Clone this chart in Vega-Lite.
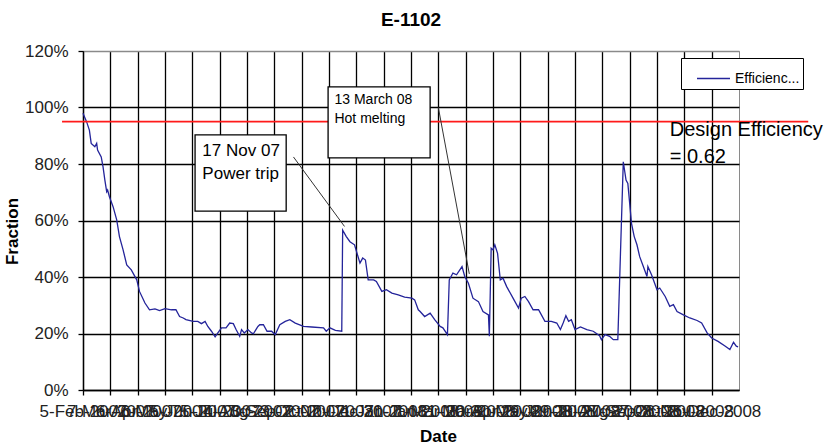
{
  "$schema": "https://vega.github.io/schema/vega-lite/v6.json",
  "autosize": {"type": "none"},
  "width": 656,
  "height": 339,
  "padding": {"left": 83, "top": 51, "right": 100, "bottom": 56},
  "background": "white",
  "config": {
    "font": "Liberation Sans",
    "view": {"stroke": "#8a8a8a", "strokeWidth": 1}
  },
  "title": {
    "text": "E-1102",
    "fontSize": 19,
    "fontWeight": "bold",
    "color": "#000",
    "frame": "group",
    "anchor": "middle",
    "offset": 12
  },
  "layer": [
    {
      "data": {
        "values": [
          {"date": "2007-02-05", "value": 0.98},
          {"date": "2007-02-09", "value": 0.949},
          {"date": "2007-02-12", "value": 0.92},
          {"date": "2007-02-14", "value": 0.873},
          {"date": "2007-02-18", "value": 0.861},
          {"date": "2007-02-20", "value": 0.873},
          {"date": "2007-02-21", "value": 0.849},
          {"date": "2007-02-25", "value": 0.825},
          {"date": "2007-02-27", "value": 0.79},
          {"date": "2007-03-01", "value": 0.743},
          {"date": "2007-03-03", "value": 0.702},
          {"date": "2007-03-04", "value": 0.708},
          {"date": "2007-03-06", "value": 0.684},
          {"date": "2007-03-10", "value": 0.649},
          {"date": "2007-03-14", "value": 0.602},
          {"date": "2007-03-17", "value": 0.543},
          {"date": "2007-03-21", "value": 0.496},
          {"date": "2007-03-25", "value": 0.443},
          {"date": "2007-03-30", "value": 0.425},
          {"date": "2007-04-05", "value": 0.39},
          {"date": "2007-04-08", "value": 0.349},
          {"date": "2007-04-14", "value": 0.308},
          {"date": "2007-04-19", "value": 0.284},
          {"date": "2007-04-25", "value": 0.287},
          {"date": "2007-04-30", "value": 0.281},
          {"date": "2007-05-06", "value": 0.288},
          {"date": "2007-05-13", "value": 0.284},
          {"date": "2007-05-18", "value": 0.284},
          {"date": "2007-05-22", "value": 0.26},
          {"date": "2007-05-26", "value": 0.255},
          {"date": "2007-05-29", "value": 0.249},
          {"date": "2007-06-06", "value": 0.243},
          {"date": "2007-06-11", "value": 0.243},
          {"date": "2007-06-15", "value": 0.235},
          {"date": "2007-06-19", "value": 0.243},
          {"date": "2007-06-22", "value": 0.225},
          {"date": "2007-06-26", "value": 0.208},
          {"date": "2007-06-30", "value": 0.188},
          {"date": "2007-07-03", "value": 0.202},
          {"date": "2007-07-07", "value": 0.22},
          {"date": "2007-07-12", "value": 0.22},
          {"date": "2007-07-16", "value": 0.237},
          {"date": "2007-07-20", "value": 0.235},
          {"date": "2007-07-23", "value": 0.214},
          {"date": "2007-07-27", "value": 0.19},
          {"date": "2007-07-29", "value": 0.214},
          {"date": "2007-08-01", "value": 0.202},
          {"date": "2007-08-05", "value": 0.214},
          {"date": "2007-08-09", "value": 0.202},
          {"date": "2007-08-11", "value": 0.199},
          {"date": "2007-08-15", "value": 0.22},
          {"date": "2007-08-16", "value": 0.225},
          {"date": "2007-08-18", "value": 0.231},
          {"date": "2007-08-22", "value": 0.231},
          {"date": "2007-08-26", "value": 0.208},
          {"date": "2007-08-31", "value": 0.208},
          {"date": "2007-09-04", "value": 0.196},
          {"date": "2007-09-09", "value": 0.231},
          {"date": "2007-09-15", "value": 0.243},
          {"date": "2007-09-20", "value": 0.249},
          {"date": "2007-09-26", "value": 0.237},
          {"date": "2007-10-05", "value": 0.225},
          {"date": "2007-10-14", "value": 0.223},
          {"date": "2007-10-27", "value": 0.22},
          {"date": "2007-10-30", "value": 0.208},
          {"date": "2007-11-03", "value": 0.22},
          {"date": "2007-11-09", "value": 0.211},
          {"date": "2007-11-16", "value": 0.208},
          {"date": "2007-11-17", "value": 0.566},
          {"date": "2007-11-21", "value": 0.543},
          {"date": "2007-11-25", "value": 0.525},
          {"date": "2007-11-30", "value": 0.514},
          {"date": "2007-12-06", "value": 0.449},
          {"date": "2007-12-09", "value": 0.467},
          {"date": "2007-12-12", "value": 0.46},
          {"date": "2007-12-15", "value": 0.39},
          {"date": "2007-12-21", "value": 0.39},
          {"date": "2007-12-24", "value": 0.384},
          {"date": "2007-12-30", "value": 0.349},
          {"date": "2008-01-04", "value": 0.355},
          {"date": "2008-01-10", "value": 0.343},
          {"date": "2008-01-17", "value": 0.337},
          {"date": "2008-01-24", "value": 0.329},
          {"date": "2008-02-01", "value": 0.325},
          {"date": "2008-02-04", "value": 0.319},
          {"date": "2008-02-08", "value": 0.284},
          {"date": "2008-02-10", "value": 0.278},
          {"date": "2008-02-15", "value": 0.26},
          {"date": "2008-02-21", "value": 0.272},
          {"date": "2008-02-26", "value": 0.249},
          {"date": "2008-03-03", "value": 0.225},
          {"date": "2008-03-06", "value": 0.22},
          {"date": "2008-03-11", "value": 0.196},
          {"date": "2008-03-13", "value": 0.39},
          {"date": "2008-03-17", "value": 0.414},
          {"date": "2008-03-21", "value": 0.408},
          {"date": "2008-03-27", "value": 0.437},
          {"date": "2008-03-30", "value": 0.402},
          {"date": "2008-04-03", "value": 0.378},
          {"date": "2008-04-08", "value": 0.325},
          {"date": "2008-04-14", "value": 0.313},
          {"date": "2008-04-19", "value": 0.278},
          {"date": "2008-04-25", "value": 0.266},
          {"date": "2008-04-26", "value": 0.19},
          {"date": "2008-04-28", "value": 0.502},
          {"date": "2008-04-30", "value": 0.496},
          {"date": "2008-05-02", "value": 0.514},
          {"date": "2008-05-05", "value": 0.484},
          {"date": "2008-05-08", "value": 0.39},
          {"date": "2008-05-11", "value": 0.396},
          {"date": "2008-05-15", "value": 0.366},
          {"date": "2008-05-22", "value": 0.325},
          {"date": "2008-05-28", "value": 0.29},
          {"date": "2008-05-31", "value": 0.325},
          {"date": "2008-06-04", "value": 0.331},
          {"date": "2008-06-08", "value": 0.313},
          {"date": "2008-06-13", "value": 0.284},
          {"date": "2008-06-19", "value": 0.284},
          {"date": "2008-06-26", "value": 0.243},
          {"date": "2008-07-03", "value": 0.243},
          {"date": "2008-07-09", "value": 0.237},
          {"date": "2008-07-13", "value": 0.214},
          {"date": "2008-07-16", "value": 0.237},
          {"date": "2008-07-19", "value": 0.263},
          {"date": "2008-07-22", "value": 0.243},
          {"date": "2008-07-25", "value": 0.249},
          {"date": "2008-07-29", "value": 0.214},
          {"date": "2008-08-04", "value": 0.223},
          {"date": "2008-08-11", "value": 0.214},
          {"date": "2008-08-18", "value": 0.208},
          {"date": "2008-08-25", "value": 0.192},
          {"date": "2008-08-27", "value": 0.178},
          {"date": "2008-08-31", "value": 0.196},
          {"date": "2008-09-05", "value": 0.19},
          {"date": "2008-09-09", "value": 0.178},
          {"date": "2008-09-14", "value": 0.178},
          {"date": "2008-09-20", "value": 0.808},
          {"date": "2008-09-23", "value": 0.743},
          {"date": "2008-09-25", "value": 0.731},
          {"date": "2008-09-27", "value": 0.661},
          {"date": "2008-09-29", "value": 0.59},
          {"date": "2008-10-02", "value": 0.543},
          {"date": "2008-10-05", "value": 0.514},
          {"date": "2008-10-08", "value": 0.472},
          {"date": "2008-10-12", "value": 0.437},
          {"date": "2008-10-16", "value": 0.402},
          {"date": "2008-10-17", "value": 0.437},
          {"date": "2008-10-21", "value": 0.408},
          {"date": "2008-10-27", "value": 0.355},
          {"date": "2008-10-30", "value": 0.361},
          {"date": "2008-11-05", "value": 0.331},
          {"date": "2008-11-10", "value": 0.296},
          {"date": "2008-11-14", "value": 0.302},
          {"date": "2008-11-18", "value": 0.278},
          {"date": "2008-11-25", "value": 0.266},
          {"date": "2008-12-02", "value": 0.255},
          {"date": "2008-12-10", "value": 0.246},
          {"date": "2008-12-15", "value": 0.237},
          {"date": "2008-12-21", "value": 0.202},
          {"date": "2008-12-26", "value": 0.184},
          {"date": "2009-01-02", "value": 0.172},
          {"date": "2009-01-10", "value": 0.155},
          {"date": "2009-01-15", "value": 0.143},
          {"date": "2009-01-19", "value": 0.169},
          {"date": "2009-01-22", "value": 0.155},
          {"date": "2009-01-24", "value": 0.153}
        ]
      },
      "mark": {"type": "line", "strokeWidth": 1.3, "interpolate": "linear"},
      "encoding": {
        "x": {
          "field": "date",
          "type": "temporal",
          "title": "Date",
          "scale": {
            "type": "utc",
            "domain": [
              {"year": 2007, "month": 2, "date": 5, "utc": true},
              {"year": 2009, "month": 1, "date": 25, "utc": true}
            ]
          },
          "axis": {
            "values": [
              {"year": 2007, "month": 2, "date": 5, "utc": true},
              {"year": 2007, "month": 3, "date": 7, "utc": true},
              {"year": 2007, "month": 4, "date": 6, "utc": true},
              {"year": 2007, "month": 5, "date": 6, "utc": true},
              {"year": 2007, "month": 6, "date": 5, "utc": true},
              {"year": 2007, "month": 7, "date": 5, "utc": true},
              {"year": 2007, "month": 8, "date": 4, "utc": true},
              {"year": 2007, "month": 9, "date": 3, "utc": true},
              {"year": 2007, "month": 10, "date": 3, "utc": true},
              {"year": 2007, "month": 11, "date": 2, "utc": true},
              {"year": 2007, "month": 12, "date": 2, "utc": true},
              {"year": 2008, "month": 1, "date": 1, "utc": true},
              {"year": 2008, "month": 1, "date": 31, "utc": true},
              {"year": 2008, "month": 3, "date": 1, "utc": true},
              {"year": 2008, "month": 3, "date": 31, "utc": true},
              {"year": 2008, "month": 4, "date": 30, "utc": true},
              {"year": 2008, "month": 5, "date": 30, "utc": true},
              {"year": 2008, "month": 6, "date": 29, "utc": true},
              {"year": 2008, "month": 7, "date": 29, "utc": true},
              {"year": 2008, "month": 8, "date": 28, "utc": true},
              {"year": 2008, "month": 9, "date": 27, "utc": true},
              {"year": 2008, "month": 10, "date": 27, "utc": true},
              {"year": 2008, "month": 11, "date": 26, "utc": true},
              {"year": 2008, "month": 12, "date": 26, "utc": true}
            ],
            "tickCount": 60,
            "format": "%-d-%b-%Y",
            "labelOverlap": false,
            "labelFlush": false,
            "labelBound": false,
            "labelFontSize": 17,
            "labelColor": "#222",
            "labelPadding": 8,
            "tickSize": 5,
            "tickColor": "#000",
            "tickWidth": 1.3,
            "domainColor": "#000",
            "domainWidth": 1.3,
            "grid": true,
            "gridColor": "#000",
            "gridWidth": 1.3,
            "titleFontSize": 17,
            "titleFontWeight": "bold",
            "titleColor": "#000",
            "titleX": 355,
            "titleY": 38
          }
        },
        "y": {
          "field": "value",
          "type": "quantitative",
          "title": "Fraction",
          "scale": {"domain": [0, 1.2], "nice": false},
          "axis": {
            "values": [0, 0.2, 0.4, 0.6, 0.8, 1, 1.2],
            "tickCount": 20,
            "format": ".0%",
            "labelFontSize": 17,
            "labelColor": "#222",
            "labelPadding": 10,
            "tickSize": 5,
            "tickColor": "#000",
            "tickWidth": 1.3,
            "domainColor": "#000",
            "domainWidth": 1.3,
            "grid": true,
            "gridColor": {"condition": {"test": "datum.value >= 1.19", "value": "#8a8a8a"}, "value": "#000"},
            "gridWidth": 1.3,
            "titleFontSize": 17,
            "titleFontWeight": "bold",
            "titleColor": "#000",
            "titleX": -62,
            "titleY": 180
          }
        },
        "color": {
          "datum": "Efficiency",
          "type": "nominal",
          "scale": {"range": ["#24249a"]},
          "legend": {
            "title": null,
            "orient": "none",
            "legendX": 598,
            "legendY": 7,
            "strokeColor": "#000",
            "fillColor": "#fff",
            "padding": 3,
            "symbolType": "stroke",
            "symbolSize": 1089,
            "symbolStrokeWidth": 1.3,
            "symbolOffset": 12,
            "labelFontSize": 14,
            "labelColor": "#000",
            "labelOffset": 4,
            "labelExpr": "slice(datum.label, 0, 9) + '...'"
          }
        }
      }
    },
    {
      "data": {"values": [{}]},
      "mark": {"type": "rule", "color": "#ff1a1a", "strokeWidth": 1.6, "clip": false},
      "encoding": {
        "x": {"datum": {"year": 2007, "month": 1, "date": 13, "utc": true}, "type": "temporal"},
        "x2": {"datum": {"year": 2009, "month": 4, "date": 11, "utc": true}},
        "y": {"datum": 0.95, "type": "quantitative"}
      }
    },
    {
      "data": {"values": [{}]},
      "mark": {"type": "rect", "fill": "#fff", "stroke": "#000", "strokeWidth": 1.3, "clip": false},
      "encoding": {
        "x": {"datum": {"year": 2007, "month": 6, "date": 8, "utc": true}, "type": "temporal"},
        "x2": {"datum": {"year": 2007, "month": 9, "date": 16, "utc": true}},
        "y": {"datum": 0.903, "type": "quantitative"},
        "y2": {"datum": 0.633}
      }
    },
    {
      "data": {"values": [{}]},
      "mark": {"type": "text", "align": "left", "baseline": "middle", "fontSize": 17, "lineHeight": 23, "color": "#000", "clip": false},
      "encoding": {
        "x": {"datum": {"year": 2007, "month": 6, "date": 16, "utc": true}, "type": "temporal"},
        "y": {"datum": 0.845, "type": "quantitative"},
        "text": {"value": ["17 Nov 07", "Power trip"]}
      }
    },
    {
      "data": {"values": [{}]},
      "mark": {"type": "rect", "fill": "#fff", "stroke": "#000", "strokeWidth": 1.3, "clip": false},
      "encoding": {
        "x": {"datum": {"year": 2007, "month": 11, "date": 1, "utc": true}, "type": "temporal"},
        "x2": {"datum": {"year": 2008, "month": 2, "date": 21, "utc": true}},
        "y": {"datum": 1.073, "type": "quantitative"},
        "y2": {"datum": 0.822}
      }
    },
    {
      "data": {"values": [{}]},
      "mark": {"type": "text", "align": "left", "baseline": "middle", "fontSize": 14, "lineHeight": 19, "color": "#000", "clip": false},
      "encoding": {
        "x": {"datum": {"year": 2007, "month": 11, "date": 8, "utc": true}, "type": "temporal"},
        "y": {"datum": 1.026, "type": "quantitative"},
        "text": {"value": ["13 March 08", "Hot melting"]}
      }
    },
    {
      "data": {"values": [{}]},
      "mark": {"type": "rule", "color": "#333", "strokeWidth": 1, "clip": false},
      "encoding": {
        "x": {"datum": {"year": 2007, "month": 9, "date": 24, "utc": true}, "type": "temporal"},
        "y": {"datum": 0.825, "type": "quantitative"},
        "x2": {"datum": {"year": 2007, "month": 11, "date": 19, "utc": true}},
        "y2": {"datum": 0.579}
      }
    },
    {
      "data": {"values": [{}]},
      "mark": {"type": "rule", "color": "#333", "strokeWidth": 1, "clip": false},
      "encoding": {
        "x": {"datum": {"year": 2008, "month": 3, "date": 1, "utc": true}, "type": "temporal"},
        "y": {"datum": 1.0, "type": "quantitative"},
        "x2": {"datum": {"year": 2008, "month": 4, "date": 4, "utc": true}},
        "y2": {"datum": 0.411}
      }
    },
    {
      "data": {"values": [{}]},
      "mark": {"type": "text", "align": "left", "baseline": "middle", "fontSize": 20, "lineHeight": 27, "color": "#000", "clip": false},
      "encoding": {
        "x": {"datum": {"year": 2008, "month": 11, "date": 10, "utc": true}, "type": "temporal"},
        "y": {"datum": 0.919, "type": "quantitative"},
        "text": {"value": ["Design Efficiency", "= 0.62"]}
      }
    }
  ]
}
